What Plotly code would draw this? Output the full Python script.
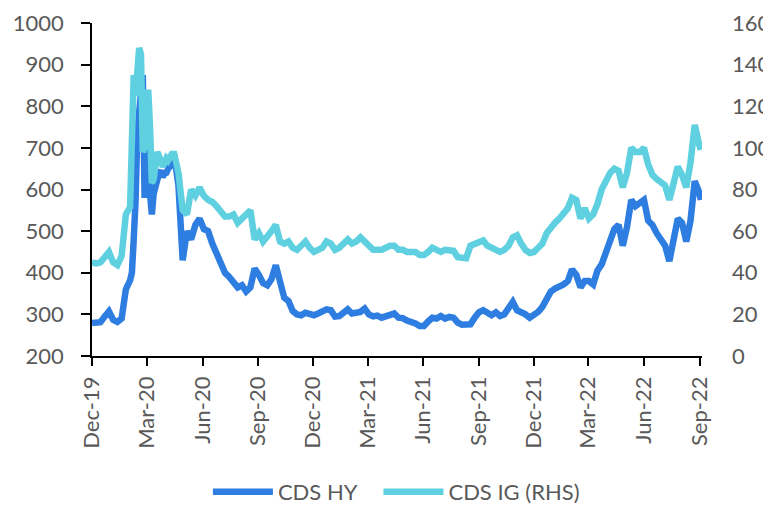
import pandas as pd
import plotly.graph_objects as go

# Sampling dates (weekly, denser around the Mar-2020 spike)
dates = (list(pd.date_range("2019-12-01", periods=10, freq="7D"))
         + list(pd.date_range("2020-02-05", periods=23, freq="3D"))
         + list(pd.date_range("2020-04-15", periods=125, freq="7D"))
         + [pd.Timestamp("2022-09-03")])

cds_hy = [
    279, 280, 281, 295, 307, 287, 282, 290, 360, 382,
    400, 480, 570, 740, 790, 840, 875, 580, 700, 640, 600, 540, 590, 610, 620, 640, 645, 630, 638, 640, 650, 655, 670,
    683, 610, 430, 500, 480, 515, 530, 505, 500, 470,
    448, 425, 400, 390, 378, 365, 370, 355, 365, 410,
    395, 375, 370, 385, 418, 380, 340, 332, 308, 300,
    298, 304, 302, 298, 302, 305, 312, 310, 295, 296,
    305, 312, 302, 303, 306, 314, 300, 295, 297, 292,
    296, 300, 302, 292, 291, 285, 283, 278, 272, 272,
    283, 292, 290, 296, 290, 294, 292, 280, 275, 274,
    276, 292, 305, 310, 302, 298, 305, 296, 300, 315,
    330, 310, 306, 300, 292, 298, 306, 318, 340, 355,
    362, 365, 372, 380, 408, 395, 365, 380, 380, 372,
    405, 420, 450, 485, 505, 515, 465, 510, 575, 560,
    570, 575, 525, 515, 495, 478, 465, 428, 480, 530,
    520, 475, 525, 620, 595,
    575,
]

cds_ig = [
    45, 44.5, 45, 47.5, 50, 45, 43.7, 48, 68, 71.5,
    95, 135, 125, 137, 148, 145, 98, 100, 120, 128, 110, 83, 85, 92, 98, 96, 92, 91, 93, 95, 94, 95, 97,
    97, 88, 70, 68, 80, 77, 81, 77, 75, 74,
    72, 70, 67, 67, 68, 64, 66, 68, 70, 56,
    59, 55, 57, 60, 63, 55, 54, 55, 52, 51,
    53, 55, 52, 50, 51, 52, 55, 54, 51, 52,
    54, 56, 54, 55, 57, 55, 52, 51, 51, 51,
    52, 53, 53, 51, 51, 50, 50, 50, 48.5, 48.5,
    50, 52, 51, 50, 51, 51, 50.5, 47.5, 47, 47,
    53, 54, 55, 55.5, 53, 52, 51, 50, 51, 53,
    57, 58, 54, 51, 49.5, 50, 52, 54, 59, 62,
    64, 66, 68, 71, 76, 75, 66, 71, 66, 68,
    73, 80, 84, 88, 90, 89, 81, 88, 100, 98,
    98, 100, 92, 87, 85, 83, 82, 75, 82, 91,
    87, 81, 93, 111, 102,
    99,
]

tick_dates = list(pd.date_range("2019-12-01", "2022-09-01", freq="3MS"))
tick_labels = [d.strftime("%b-%y") for d in tick_dates]

FONT = "Lato"
GREY = "#595959"

fig = go.Figure()
fig.add_trace(go.Scatter(
    x=dates, y=cds_hy, name="CDS HY\u00a0\u00a0\u00a0", mode="lines",
    line=dict(color="#2E7DE1", width=6.5, shape="linear"),
    yaxis="y",
))
fig.add_trace(go.Scatter(
    x=dates, y=cds_ig, name="CDS IG (RHS)", mode="lines",
    line=dict(color="#5ED0E0", width=6.5, shape="linear"),
    yaxis="y2",
))

fig.update_layout(
    width=763, height=498,
    margin=dict(l=84, r=69, t=15, b=150, autoexpand=False),
    paper_bgcolor="white", plot_bgcolor="white",
    font=dict(family=FONT, size=22, color=GREY),
    showlegend=True,
    legend=dict(
        orientation="h", xref="paper", x=0.19,
        yref="container", y=0.028, xanchor="left", yanchor="middle",
        font=dict(family=FONT, size=22, color=GREY),
        itemwidth=60, tracegroupgap=0, bgcolor="rgba(0,0,0,0)",
    ),
    xaxis=dict(
        type="date", range=["2019-12-01", "2022-09-05"],
        tickvals=tick_dates, ticktext=tick_labels, tickangle=-90,
        ticks="outside", ticklen=8, tickwidth=1.5, tickcolor="black",
        showline=True, linecolor="black", linewidth=1.5,
        showgrid=False, zeroline=False, automargin=False,
        tickfont=dict(family=FONT, size=22, color=GREY),
        ticklabelstandoff=2,
    ),
    yaxis=dict(
        range=[200, 1000], dtick=100, tick0=200,
        ticks="outside", ticklen=9, tickwidth=1.5, tickcolor="black",
        showline=True, linecolor="black", linewidth=1.5,
        showgrid=False, zeroline=False, automargin=False,
        tickfont=dict(family=FONT, size=22, color=GREY),
        ticklabelstandoff=13,
    ),
    yaxis2=dict(
        range=[0, 160], dtick=20, tick0=0,
        overlaying="y", side="right",
        ticks="", showline=False, showgrid=False, zeroline=False,
        automargin=False,
        tickfont=dict(family=FONT, size=22, color=GREY),
        ticklabelstandoff=29,
    ),
)

fig.write_html("out.html")
